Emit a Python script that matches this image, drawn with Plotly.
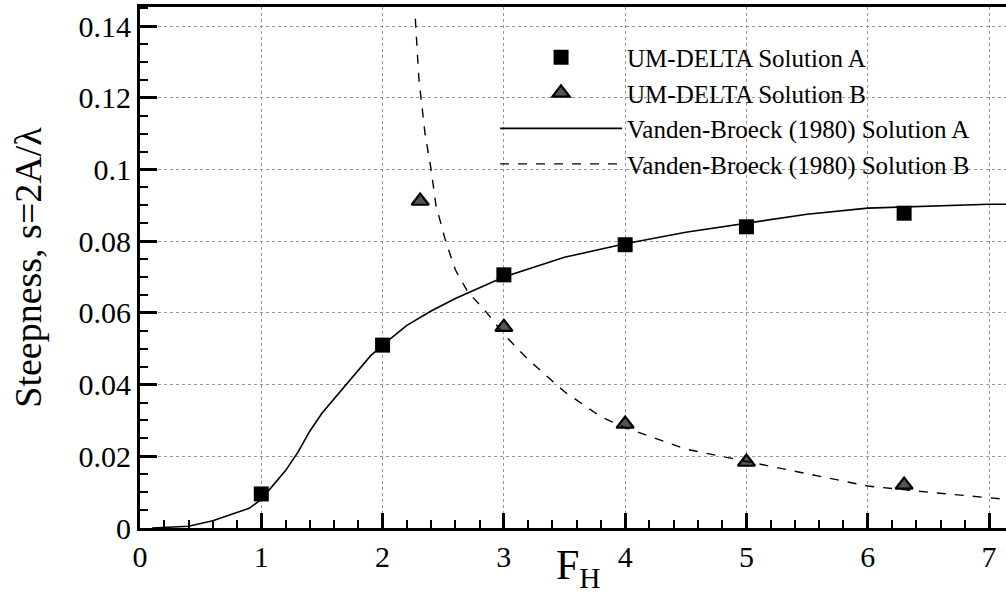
import plotly.graph_objects as go

# --- data ---
um_a_x = [1.0, 2.0, 3.0, 4.0, 5.0, 6.3]
um_a_y = [0.0095, 0.051, 0.0706, 0.079, 0.084, 0.0878]

um_b_x = [2.31, 3.0, 4.0, 5.0, 6.3]
um_b_y = [0.0912, 0.056, 0.029, 0.0184, 0.012]

vb_a_x = [0.1, 0.4, 0.6, 0.9, 1.0, 1.1, 1.2, 1.3, 1.4, 1.5, 1.6, 1.7, 1.8, 1.9, 2.0,
          2.2, 2.4, 2.6, 2.8, 3.0, 3.5, 4.0, 4.5, 5.0, 5.5, 6.0, 6.5, 7.0, 7.2]
vb_a_y = [0.0, 0.0005, 0.002, 0.0055, 0.008, 0.012, 0.016, 0.021, 0.027, 0.032, 0.036,
          0.040, 0.044, 0.048, 0.051, 0.0565, 0.0605, 0.064, 0.067, 0.0700, 0.0755,
          0.0793, 0.0825, 0.085, 0.0875, 0.0892, 0.0898, 0.0903, 0.0903]

vb_b_x = [2.27, 2.3, 2.35, 2.4, 2.44, 2.52, 2.6, 2.7, 2.86, 3.0, 3.2, 3.5, 3.8, 4.0,
          4.5, 5.0, 5.5, 6.0, 6.5, 7.0, 7.2]
vb_b_y = [0.142, 0.125, 0.11, 0.1, 0.09, 0.08, 0.072, 0.066, 0.06, 0.054, 0.047, 0.038,
          0.031, 0.028, 0.022, 0.0185, 0.015, 0.0117, 0.0100, 0.0084, 0.0078]

x_ticks = [0, 1, 2, 3, 4, 5, 6, 7]
x_tick_text = ["0", "1", "2", "3", "4", "5", "6", "7"]
y_ticks = [0, 0.02, 0.04, 0.06, 0.08, 0.1, 0.12, 0.14]
y_tick_text = ["0", "0.02", "0.04", "0.06", "0.08", "0.1", "0.12", "0.14"]

FONT = "Liberation Serif"

fig = go.Figure()
fig.add_trace(go.Scatter(x=um_a_x, y=um_a_y, mode="markers", name="UM-DELTA Solution A",
                         marker=dict(symbol="square", size=15, color="black")))
fig.add_trace(go.Scatter(x=um_b_x, y=um_b_y, mode="markers", name="UM-DELTA Solution B",
                         marker=dict(symbol="triangle-up", size=15, color="#555",
                                     line=dict(color="black", width=2.2))))
fig.add_trace(go.Scatter(x=vb_a_x, y=vb_a_y, mode="lines", name="Vanden-Broeck (1980) Solution A",
                         line=dict(color="black", width=1.6)))
fig.add_trace(go.Scatter(x=vb_b_x, y=vb_b_y, mode="lines", name="Vanden-Broeck (1980) Solution B",
                         line=dict(color="black", width=1.4, dash="dash")))

fig.update_layout(
    width=1006, height=597,
    margin=dict(l=140, r=0, t=7, b=69),
    paper_bgcolor="white", plot_bgcolor="white",
    font=dict(family=FONT, color="black"),
    legend=dict(x=0.41, y=0.947, xanchor="left", yanchor="top",
                font=dict(size=25, family=FONT), bgcolor="rgba(0,0,0,0)",
                itemwidth=122, tracegroupgap=0),
    xaxis=dict(range=[0, 7.14], tickmode="array", tickvals=x_ticks, ticktext=x_tick_text,
               ticks="inside", ticklen=15, tickwidth=3, tickcolor="black",
               showline=True, linewidth=3, linecolor="black", mirror=True,
               showgrid=True, gridcolor="#999", griddash="dot", gridwidth=1,
               zeroline=False, tickfont=dict(size=30),
               minor=dict(dtick=0.2, tick0=0, ticks="inside", ticklen=8, tickwidth=2,
                          tickcolor="black", showgrid=False)),
    yaxis=dict(range=[0, 0.1453], tickmode="array", tickvals=y_ticks, ticktext=y_tick_text,
               ticks="inside", ticklen=17, tickwidth=3, tickcolor="black",
               showline=True, linewidth=3, linecolor="black",
               showgrid=True, gridcolor="#999", griddash="dot", gridwidth=1,
               zeroline=False, tickfont=dict(size=30),
               title=dict(text="Steepness, s=2A/λ", font=dict(size=38), standoff=26),
               minor=dict(dtick=0.005, tick0=0, ticks="inside", ticklen=8, tickwidth=2,
                          tickcolor="black", showgrid=False)),
)

fig.add_annotation(text="F<sub>H</sub>", xref="paper", yref="paper",
                   x=(578 - 140) / 866, y=-(568 - 528) / 521,
                   showarrow=False, font=dict(size=42, family=FONT), xanchor="center", yanchor="middle")

fig.write_html("out.html")
